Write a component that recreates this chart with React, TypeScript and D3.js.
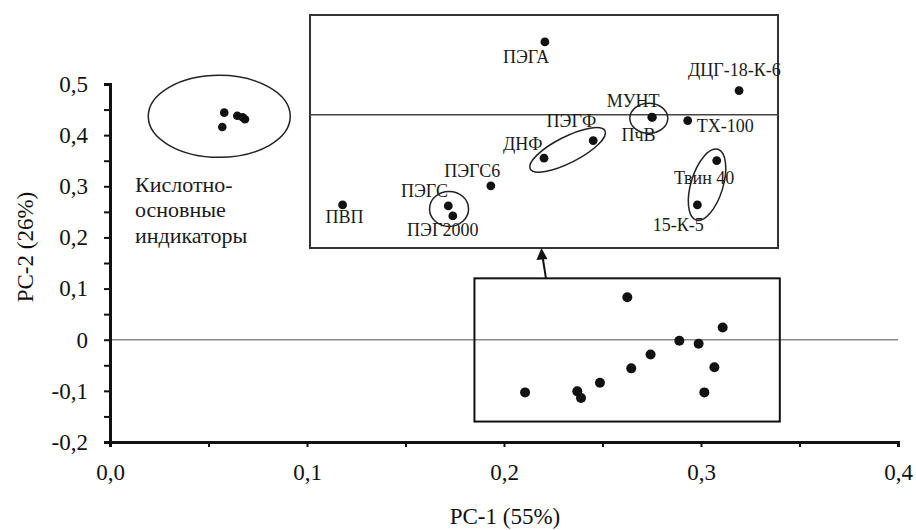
import * as d3 from "d3";
import { useEffect, useRef } from "react";

const width = 916;
const height = 530;

// кислотно-основные индикаторы (облако слева вверху)
const indicatorX = [0.058, 0.057, 0.0646, 0.0673, 0.0685];
const indicatorY = [0.444, 0.416, 0.438, 0.435, 0.431];

// ПАВ и полимеры на общем графике
const surfX = [0.2626, 0.311, 0.289, 0.2988, 0.2744, 0.2646, 0.3068, 0.2487, 0.2107, 0.2372, 0.2391, 0.3017];
const surfY = [0.083, 0.024, -0.002, -0.008, -0.029, -0.056, -0.054, -0.084, -0.103, -0.101, -0.114, -0.103];

// то же окно в увеличенном виде (врезка)
const insetNames = ["ПЭГА", "ДЦГ-18-К-6", "МУНТ", "ПчВ", "ТХ-100", "ПЭГФ", "ДНФ", "Твин 40", "15-К-5", "ПЭГС6", "ПЭГС", "ПЭГ2000", "ПВП"];
const insetX = [0.2628, 0.3271, 0.2982, 0.2984, 0.3101, 0.2788, 0.2625, 0.3197, 0.3133, 0.2449, 0.2308, 0.2323, 0.1958];
const insetY = [0.0877, 0.0292, -0.0028, -0.003, -0.0069, -0.0309, -0.052, -0.0549, -0.1082, -0.0853, -0.1094, -0.1214, -0.1082];

const zoomWindowX = [0.185, 0.34];
const zoomWindowY = [-0.16, 0.12];

const xTickValues = d3.range(0, 9).map((i) => i * 0.05);
const yTickValues = d3.range(-4, 11).map((i) => i * 0.05);
const clusterLabel = ["Кислотно-", "основные", "индикаторы"];

// смещения подписей относительно точки, px
const labelOffsets = [
  [-42, 21], [-51, -15], [-45, -10.6], [-31, 23.2], [9, 11], [-46.6, -13.7], [-41, -8],
  [-42.7, 23.3], [-44.6, 25.7], [-46.7, -9.3], [-47.3, -9.3], [-45.7, 20], [-17, 18],
];

// эллипсы вокруг групп на врезке
const insetGroups = [
  { members: ["ПЭГС", "ПЭГ2000"], rx: 19.5, ry: 17.5, angle: 0, dx: -1.5, dy: -2 },
  { members: ["МУНТ"], rx: 19, ry: 15, angle: 0, dx: -3, dy: 1 },
  { members: ["ДНФ", "ПЭГФ"], rx: 42, ry: 13, angle: -27, dx: -1, dy: 0.5 },
  { members: ["Твин 40", "15-К-5"], rx: 37, ry: 16, angle: -73, dx: 0, dy: 2 },
];

const font = "'Liberation Serif', 'Times New Roman', serif";
const isMajor = (v: number) => Math.round(v * 100) % 10 === 0;

const App = () => {
  const ref = useRef<SVGSVGElement | null>(null);

  useEffect(() => {
    document.body.style.margin = "0";
    const svg = d3.select(ref.current);
    svg.selectAll("*").remove();

    const x = d3.scaleLinear().domain([0, 0.4]).range([110, 898]);
    const y = d3.scaleLinear().domain([-0.2, 0.5]).range([442, 84]);
    const ix = d3.scaleLinear().domain(zoomWindowX).range([310, 778]);
    const iy = d3.scaleLinear().domain(zoomWindowY).range([248, 15]);

    svg.append("rect").attr("width", width).attr("height", height).attr("fill", "#fff");

    // нулевая линия
    svg
      .append("line")
      .attr("x1", x(0))
      .attr("x2", x(0.4))
      .attr("y1", y(0))
      .attr("y2", y(0))
      .attr("stroke", "#8a8a8a")
      .attr("stroke-width", 1.5);

    // окно увеличения
    svg
      .append("rect")
      .attr("x", x(zoomWindowX[0]))
      .attr("y", y(zoomWindowY[1]))
      .attr("width", x(zoomWindowX[1]) - x(zoomWindowX[0]))
      .attr("height", y(zoomWindowY[0]) - y(zoomWindowY[1]))
      .attr("fill", "none")
      .attr("stroke", "#111")
      .attr("stroke-width", 2);

    svg
      .append("g")
      .selectAll("circle")
      .data(surfX)
      .enter()
      .append("circle")
      .attr("cx", (d) => x(d))
      .attr("cy", (d, i) => y(surfY[i]))
      .attr("r", 5)
      .attr("fill", "#111");

    // индикаторы
    svg
      .append("g")
      .selectAll("circle")
      .data(indicatorX)
      .enter()
      .append("circle")
      .attr("cx", (d) => x(d))
      .attr("cy", (d, i) => y(indicatorY[i]))
      .attr("r", 4.3)
      .attr("fill", "#111");

    const cx = d3.mean(indicatorX, (d) => x(d)) as number;
    const cy = d3.mean(indicatorY, (d) => y(d)) as number;
    svg
      .append("ellipse")
      .attr("cx", cx - 15)
      .attr("cy", cy - 2)
      .attr("rx", 71)
      .attr("ry", 41)
      .attr("fill", "none")
      .attr("stroke", "#222")
      .attr("stroke-width", 1.5);

    svg
      .append("text")
      .attr("font-family", font)
      .attr("font-size", 22)
      .attr("fill", "#1a1a1a")
      .selectAll("tspan")
      .data(clusterLabel)
      .enter()
      .append("tspan")
      .attr("x", 135)
      .attr("y", (d, i) => 192 + i * 25.3)
      .text((d) => d);

    // врезка
    const inset = svg.append("g");
    inset
      .append("rect")
      .attr("x", 310)
      .attr("y", 15)
      .attr("width", 468)
      .attr("height", 233)
      .attr("fill", "#fff")
      .attr("stroke", "#333")
      .attr("stroke-width", 2);
    inset
      .append("line")
      .attr("x1", 310)
      .attr("x2", 778)
      .attr("y1", iy(0))
      .attr("y2", iy(0))
      .attr("stroke", "#444")
      .attr("stroke-width", 1.5);

    inset
      .selectAll("circle.pt")
      .data(insetX)
      .enter()
      .append("circle")
      .attr("class", "pt")
      .attr("cx", (d) => ix(d))
      .attr("cy", (d, i) => iy(insetY[i]))
      .attr("r", 4.4)
      .attr("fill", "#111");

    inset
      .selectAll("text")
      .data(insetNames)
      .enter()
      .append("text")
      .attr("x", (d, i) => ix(insetX[i]) + labelOffsets[i][0])
      .attr("y", (d, i) => iy(insetY[i]) + labelOffsets[i][1])
      .attr("font-family", font)
      .attr("font-size", 18)
      .attr("fill", "#1a1a1a")
      .text((d) => d);

    insetGroups.forEach((g) => {
      const idx = g.members.map((m) => insetNames.indexOf(m));
      const gx = (d3.mean(idx, (i) => ix(insetX[i])) as number) + g.dx;
      const gy = (d3.mean(idx, (i) => iy(insetY[i])) as number) + g.dy;
      inset
        .append("ellipse")
        .attr("cx", 0)
        .attr("cy", 0)
        .attr("rx", g.rx)
        .attr("ry", g.ry)
        .attr("transform", `translate(${gx},${gy}) rotate(${g.angle})`)
        .attr("fill", "none")
        .attr("stroke", "#222")
        .attr("stroke-width", 1.5);
    });

    // стрелка от окна к врезке
    const ax = x(0.2213);
    const ay = y(zoomWindowY[1]);
    svg
      .append("line")
      .attr("x1", ax)
      .attr("y1", ay)
      .attr("x2", ax - 3.2)
      .attr("y2", 258)
      .attr("stroke", "#111")
      .attr("stroke-width", 2);
    svg
      .append("path")
      .attr("d", `M${ax - 4.5},248 L${ax - 9.5},260 L${ax + 1.5},259 Z`)
      .attr("fill", "#111");

    // оси
    const xAxis = d3
      .axisBottom(x)
      .tickValues(xTickValues)
      .tickSize(5)
      .tickSizeOuter(5)
      .tickPadding(17)
      .tickFormat((d) => (isMajor(+d) ? (+d).toFixed(1).replace(".", ",") : ""));
    const yAxis = d3
      .axisLeft(y)
      .tickValues(yTickValues)
      .tickSize(6)
      .tickSizeOuter(6)
      .tickPadding(16)
      .tickFormat((d) =>
        isMajor(+d) ? (Math.abs(+d) < 1e-9 ? "0" : (+d).toFixed(1).replace(".", ",")) : ""
      );

    [
      svg.append("g").attr("transform", `translate(0,${y(-0.2)})`).call(xAxis),
      svg.append("g").attr("transform", `translate(${x(0)},0)`).call(yAxis),
    ].forEach((g) => {
      g.attr("font-family", font).attr("font-size", 23);
      g.select(".domain").attr("stroke", "#111").attr("stroke-width", 3);
      g.selectAll(".tick line").attr("stroke", "#111").attr("stroke-width", 2);
      g.selectAll(".tick text").attr("fill", "#111");
    });

    svg
      .append("text")
      .attr("x", 505)
      .attr("y", 524)
      .attr("text-anchor", "middle")
      .attr("font-family", font)
      .attr("font-size", 23)
      .attr("fill", "#111")
      .text("PC-1 (55%)");
    svg
      .append("text")
      .attr("transform", "translate(33,247) rotate(-90)")
      .attr("text-anchor", "middle")
      .attr("font-family", font)
      .attr("font-size", 23)
      .attr("fill", "#111")
      .text("PC-2 (26%)");
  }, []);

  return <svg ref={ref} width={width} height={height} style={{ display: "block" }} />;
};

export default App;
